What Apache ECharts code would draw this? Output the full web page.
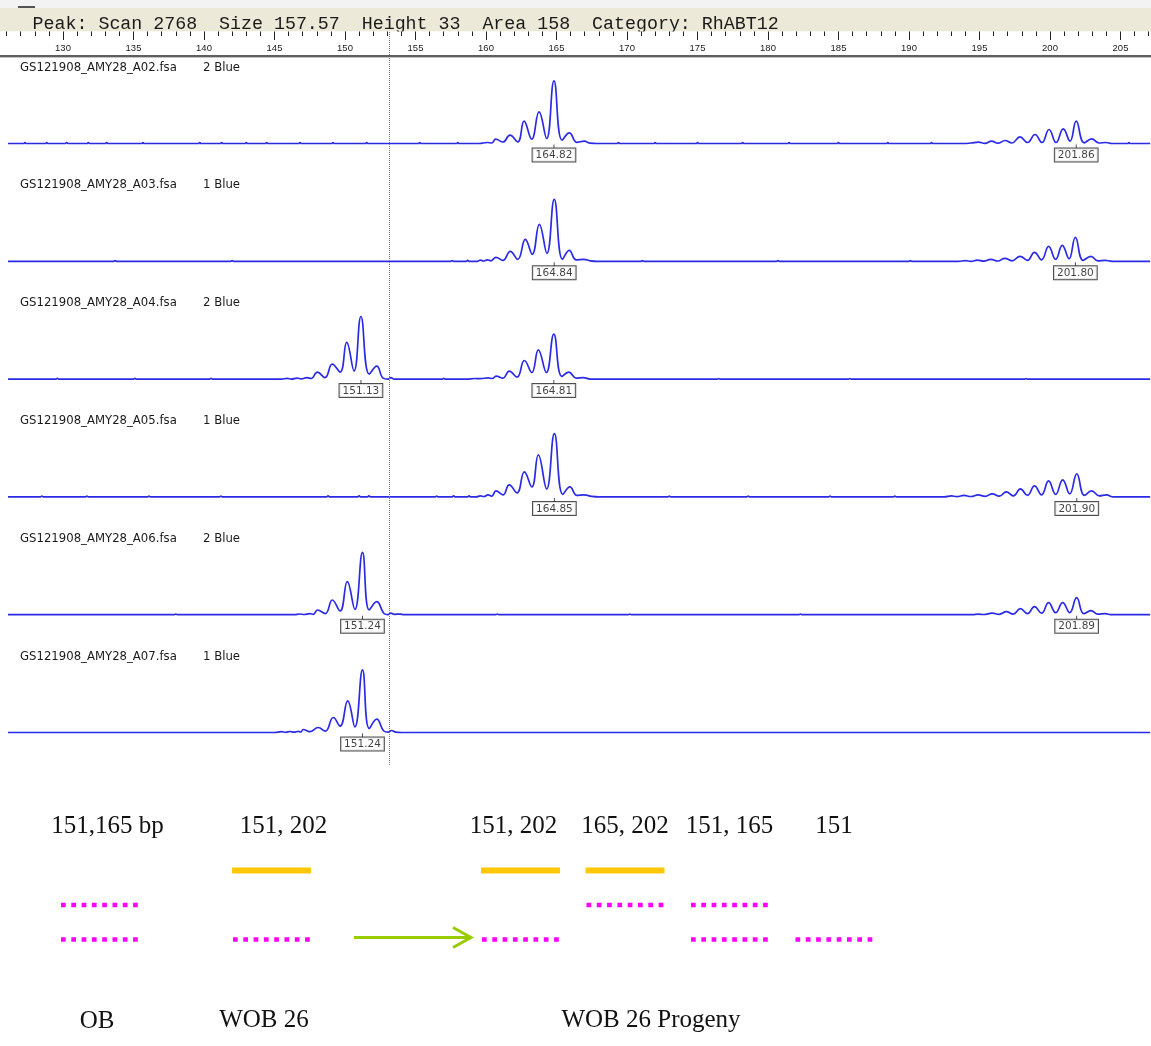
<!DOCTYPE html>
<html>
<head>
<meta charset="utf-8">
<script src="https://cdn.jsdelivr.net/npm/echarts@6/dist/echarts.min.js"></script>
<style>
  html, body { margin: 0; padding: 0; background: #fff; }
  #chart { width: 1151px; height: 1046px; }
</style>
</head>
<body>
<div id="chart"></div>
<script>
// ---------------------------------------------------------------------------
// Electropherogram data: fragment size (bp) vs. signal, one trace per sample
// ---------------------------------------------------------------------------
const HEADER_TEXT = 'Peak: Scan 2768  Size 157.57  Height 33  Area 158  Category: RhABT12';

const SAMPLES = [
  'GS121908_AMY28_A02.fsa', 'GS121908_AMY28_A03.fsa', 'GS121908_AMY28_A04.fsa',
  'GS121908_AMY28_A05.fsa', 'GS121908_AMY28_A06.fsa', 'GS121908_AMY28_A07.fsa'
];
const DYES = ['2 Blue', '1 Blue', '2 Blue', '1 Blue', '2 Blue', '1 Blue'];

const CURSOR_SIZE = 153.15;

// [size bp, signal]
const TRACE_A02 = [
  [126.1,0],[127.2,0],[127.3,0.8],[127.4,0],[128.75,0],[128.85,0.8],[128.95,0],
  [130.15,0],[130.26,1],[130.37,0],[131.7,0],[131.8,0.8],[131.9,0],[133.0,0],[133.1,1],[133.2,0],
  [135.57,0],[135.67,0.8],[135.77,0],[139.6,0],[139.7,1],[139.8,0],[141.15,0],[141.25,0.8],[141.35,0],
  [142.9,0],[143.0,1],[143.1,0],[144.35,0],[144.45,0.8],[144.55,0],[146.7,0],[146.8,1],[146.9,0],
  [149.05,0],[149.15,0.8],[149.25,0],[151.44,0],[151.54,1],[151.64,0],[155.2,0],[155.3,0.8],[155.4,0],
  [157.9,0],[158.0,0.8],[158.1,0],
  [159.5,0],[160.1,1],[160.4,0.5],[160.69,4.3],[161.2,1.5],[161.70,8.3],[162.25,1.6],[162.70,22.3],
  [163.24,4.3],[163.76,31.6],[164.30,5],[164.82,62.6],[165.40,3.3],[165.91,10.6],[166.45,1.2],
  [166.97,2.3],[167.4,0.3],[167.9,0],
  [169.3,0],[169.4,0.8],[169.5,0],[171.9,0],[172.0,0.8],[172.1,0],[174.9,0],[175.0,1],[175.1,0],
  [178.1,0],[178.2,0.8],[178.3,0],[181.4,0],[181.5,0.8],[181.6,0],[184.9,0],[185.0,1],[185.1,0],
  [188.4,0],[188.5,0.8],[188.6,0],[191.5,0],[191.6,0.8],[191.7,0],
  [193.9,0],[194.4,0.5],[194.92,1.3],[195.39,0.2],[195.86,2.3],[196.31,0.3],[196.81,3],[197.30,0.5],
  [197.87,6.6],[198.40,1],[198.94,9],[199.43,1],[199.93,14],[200.43,1],[200.94,14.6],[201.42,2.3],
  [201.86,22.3],[202.43,0.7],[202.96,4.6],[203.48,0.5],[203.97,1.0],[204.4,0],
  [205.5,0],[205.6,0.8],[205.7,0],[207.1,0]
];
const TRACE_A03 = [
  [126.1,0],[133.6,0],[133.7,0.6],[133.8,0],[141.9,0],[142.0,0.6],[142.1,0],
  [157.5,0],[157.6,0.8],[157.7,0],[158.6,0],[158.7,1],[158.8,0],
  [159.4,0],[159.6,1.2],[159.8,0.3],[160.1,1.5],[160.35,0.5],[160.7,4],[161.2,1],[161.72,10],
  [162.25,2],[162.79,22],[163.28,7],[163.78,37],[164.32,8],[164.84,62],[165.43,2],[165.90,11],
  [166.4,1.5],[166.95,2],[167.4,0.5],[167.9,0],
  [171.0,0],[171.1,0.6],[171.2,0],[180.6,0],[180.7,0.6],[180.8,0],[190.0,0],[190.1,0.6],[190.2,0],
  [193.5,0],[194.0,0.6],[194.4,0],[194.85,1.2],[195.3,0.2],[195.8,2],[196.3,0.3],[196.8,3],[197.3,0.5],
  [197.88,5],[198.4,1],[198.9,9],[199.4,1.5],[199.9,15],[200.4,2],[200.87,16],[201.35,2.5],
  [201.80,24],[202.35,1],[202.9,5],[203.4,0.5],[203.9,1],[204.4,0],[207.1,0]
];
const TRACE_A04 = [
  [126.1,0],[129.5,0],[129.6,0.7],[129.7,0],[135.0,0],[135.1,0.7],[135.2,0],[140.4,0],[140.5,0.7],[140.6,0],
  [145.5,0],[145.9,0.8],[146.2,0],[146.6,1],[146.9,0.3],[147.3,1.5],[147.6,0.6],[148.04,7],[148.58,1.5],
  [149.10,15],[149.65,7],[150.12,36.7],[150.64,8],[151.13,62.6],[151.72,5],[152.25,13],[152.7,1],
  [153.05,0],[153.25,1.5],[153.5,0],
  [156.9,0],[157.0,0.7],[157.1,0],
  [158.6,0],[159.2,0.6],[159.6,0.5],[160.15,1.2],[160.45,0.6],[160.72,3],[161.2,1],[161.65,8],[162.2,2],
  [162.72,18.6],[163.25,6.6],[163.71,29.3],[164.28,6.6],[164.81,45],[165.38,2.7],[165.87,7],[166.4,1],
  [166.9,1.5],[167.4,0],
  [176.4,0],[176.5,0.6],[176.6,0],[185.7,0],[185.8,0.6],[185.9,0],[198.2,0],[198.3,0.6],[198.4,0],[207.1,0]
];
const TRACE_A05 = [
  [126.1,0],[128.4,0],[128.5,0.8],[128.6,0],[131.6,0],[131.7,0.8],[131.8,0],[136.0,0],[136.1,0.8],[136.2,0],
  [141.1,0],[141.2,0.8],[141.3,0],[148.7,0],[148.8,1],[148.9,0],[150.9,0],[151.0,1],[151.1,0],
  [151.6,0],[151.7,1],[151.8,0],[156.4,0],[156.5,0.8],[156.6,0],[157.6,0],[157.7,1],[157.8,0],
  [158.7,0],[158.8,1],[158.9,0],
  [159.3,0],[159.6,1],[159.85,0.4],[160.15,2],[160.4,0.6],[160.71,6],[161.2,2],[161.65,12],[162.2,4],
  [162.72,25],[163.25,10],[163.71,42],[164.30,8],[164.85,63.3],[165.45,2.5],[165.95,10],[166.45,1.5],
  [166.95,2],[167.5,0.5],[168.0,0],
  [172.9,0],[173.0,0.8],[173.1,0],[178.5,0],[178.6,0.8],[178.7,0],[184.3,0],[184.4,0.8],[184.5,0],
  [188.9,0],[189.0,0.8],[189.1,0],
  [192.5,0],[193.0,1],[193.4,0.3],[193.9,1.5],[194.4,0.4],[194.9,2],[195.4,0.5],[195.9,3],[196.4,0.7],
  [196.9,5],[197.4,1],[197.9,8],[198.4,1.5],[198.9,11],[199.4,2],[199.9,16],[200.4,2.5],[200.9,17],
  [201.4,3],[201.90,23],[202.45,1.5],[202.95,6],[203.5,1],[204.0,2],[204.5,0],[207.1,0]
];
const TRACE_A06 = [
  [126.1,0],[137.9,0],[138.0,0.6],[138.1,0],
  [146.4,0],[146.8,0.7],[147.1,0.2],[147.5,1],[147.75,0.4],[148.05,4.7],[148.6,1],[149.10,14.7],
  [149.65,3.7],[150.16,33],[150.7,5.3],[151.24,62.3],[151.72,4.7],[152.25,13],[152.75,1.5],[153.05,0],
  [153.25,1.5],[153.5,0.4],[153.9,0.6],[154.2,0],
  [160.7,0],[160.8,0.6],[160.9,0],[170.1,0],[170.2,0.6],[170.3,0],[182.2,0],[182.3,0.6],[182.4,0],
  [194.5,0],[194.9,0.6],[195.3,0.2],[195.9,1.5],[196.4,0.4],[196.9,3],[197.4,0.6],[197.9,6],[198.4,1],
  [198.9,8],[199.4,1.5],[199.9,12],[200.4,2],[200.9,12],[201.4,2],[201.89,17],[202.4,1],[202.9,4],
  [203.4,0.5],[203.9,1],[204.4,0],[207.1,0]
];
const TRACE_A07 = [
  [126.1,0],[145.0,0],[145.5,0.8],[145.8,0.2],[146.1,1],[146.4,0.3],[146.7,1.2],[146.85,0.5],[147.04,3],
  [147.5,0.8],[148.1,5],[148.6,1.3],[149.17,15],[149.65,6.3],[150.19,31.7],[150.7,5.6],[151.24,62.7],
  [151.72,4],[152.25,13.3],[152.75,1.5],[153.05,0.3],[153.3,2],[153.6,0.3],[154.0,0],[207.1,0]
];

// Called allele sizes (bp) for each sample
const PEAKS_A02 = [164.82, 201.86];
const PEAKS_A03 = [164.84, 201.80];
const PEAKS_A04 = [151.13, 164.81];
const PEAKS_A05 = [164.85, 201.90];
const PEAKS_A06 = [151.24, 201.89];
const PEAKS_A07 = [151.24];

// Inheritance diagram: allele lanes, groups, genotypes
const ALLELE_LANES = ['202', '165', '151'];
const PATERNAL_ALLELE = '202';
const GROUP_NAMES = ['OB', 'WOB 26', 'WOB 26 Progeny'];
const GENOTYPE_LABELS_OB = ['151,165 bp'];
const GENOTYPE_LABELS_WOB = ['151, 202'];
const GENOTYPE_LABELS_PROGENY = ['151, 202', '165, 202', '151, 165', '151'];
const GENOTYPES_OB = [[151, 165]];
const GENOTYPES_WOB = [[151, 202]];
const GENOTYPES_PROGENY = [[151, 202], [165, 202], [151, 165], [151]];
const TRANSMITTED = { toProgeny: 0, allele: '151' };

// ---------------------------------------------------------------------------
// Layout
// ---------------------------------------------------------------------------
const W = 1151, H = 1046;
const X130 = 63, PX_PER_BP = 14.1;
const AX_MIN = 125, AX_MAX = 210;
const GRID_L = X130 - (130 - AX_MIN) * PX_PER_BP;
const GRID_R = W - (X130 + (AX_MAX - 130) * PX_PER_BP);
const PANEL_BASE0 = 143.5, PANEL_STEP = 117.8;
const SIG_MAX = 76, SIG_MIN = -4;

const TRACES = [TRACE_A02, TRACE_A03, TRACE_A04, TRACE_A05, TRACE_A06, TRACE_A07];
const PEAKS = [PEAKS_A02, PEAKS_A03, PEAKS_A04, PEAKS_A05, PEAKS_A06, PEAKS_A07];

const BAND = 104.5;
const GROUP_CENTERS = [99.5, 271.5, 520.5];
const GROUP_LABELS = [GENOTYPE_LABELS_OB, GENOTYPE_LABELS_WOB, GENOTYPE_LABELS_PROGENY];
const GROUP_GENOTYPES = [GENOTYPES_OB, GENOTYPES_WOB, GENOTYPES_PROGENY];
// horizontal nudge (px) of each genotype caption relative to its column
const LABEL_NUDGE = [[8], [12], [-7, 0, 0, 0]];
const GROUP_NAME_POS = [[97, 1021], [264, 1020], [651, 1020]];
const LANE_TOP = 853.25, LANE_H = 103.5;
const SEG = 77;

const grids = [], xAxes = [], yAxes = [], series = [], graphics = [];

// Size ruler + cursor grid
grids.push({ left: GRID_L, right: GRID_R, top: 31.5, bottom: H - 765, outerBoundsMode: 'none' });
xAxes.push({
  gridIndex: 0, type: 'value', position: 'top', min: AX_MIN, max: AX_MAX, interval: 5, z: 10,
  axisLine: { show: false, onZero: false },
  axisTick: { show: true, inside: true, length: 8.5, lineStyle: { color: '#222', width: 1 } },
  minorTick: { show: true, splitNumber: 5, length: 4.5, lineStyle: { color: '#222', width: 1 } },
  axisLabel: { inside: true, margin: 11.5, fontSize: 9.5, color: '#222',
    fontFamily: '"Liberation Sans Narrow", "Liberation Sans", sans-serif',
    showMinLabel: false, showMaxLabel: false },
  splitLine: { show: false }, minorSplitLine: { show: false }
});
yAxes.push({ gridIndex: 0, type: 'value', min: 0, max: 1, show: false });
series.push({
  type: 'line', xAxisIndex: 0, yAxisIndex: 0, data: [], silent: true,
  markLine: {
    silent: true, symbol: ['none', 'none'], label: { show: false },
    lineStyle: { color: '#7a7a7a', width: 1, type: [1, 1] },
    data: [{ xAxis: CURSOR_SIZE }]
  }
});

// One grid per sample trace
TRACES.forEach((trace, i) => {
  const gi = i + 1;
  const base = PANEL_BASE0 + i * PANEL_STEP;
  grids.push({ left: GRID_L, right: GRID_R, top: base - SIG_MAX, height: SIG_MAX - SIG_MIN, outerBoundsMode: 'none' });
  xAxes.push({ gridIndex: gi, type: 'value', min: AX_MIN, max: AX_MAX, show: false });
  yAxes.push({ gridIndex: gi, type: 'value', min: SIG_MIN, max: SIG_MAX, show: false });
  series.push({
    type: 'line', xAxisIndex: gi, yAxisIndex: gi, data: trace, silent: true,
    symbol: 'none', showSymbol: false, smooth: 0.45,
    lineStyle: { color: '#2b2be6', width: 1.7 }
  });
  series.push({
    type: 'scatter', xAxisIndex: gi, yAxisIndex: gi, silent: true, z: 5,
    data: PEAKS[i].map(v => [v, 0]),
    symbol: 'rect', symbolSize: [1, 4], symbolOffset: [0, 3],
    itemStyle: { color: '#222' },
    label: {
      show: true, position: 'bottom', distance: 0,
      formatter: p => p.value[0].toFixed(2),
      fontFamily: '"DejaVu Sans", sans-serif', fontSize: 10.5, lineHeight: 10, color: '#111',
      backgroundColor: '#fff', borderColor: '#222', borderWidth: 1, padding: [2, 3, 1, 3]
    }
  });
  graphics.push({ type: 'text', z: 20, style: { text: SAMPLES[i], x: 20, y: base - 76, fill: '#1a1a1a',
    font: '11.7px "DejaVu Sans"', verticalAlign: 'middle' } });
  graphics.push({ type: 'text', z: 20, style: { text: DYES[i], x: 203, y: base - 76, fill: '#1a1a1a',
    font: '11.7px "DejaVu Sans"', verticalAlign: 'middle' } });
});

// Inheritance diagram grids
const paternalStyle = { stroke: '#FFC808', lineWidth: 6, lineCap: 'butt' };
const otherStyle = { stroke: '#FF00FF', lineWidth: 4.7, lineDash: [4.7, 5.6], lineCap: 'butt' };
function renderAllele(params, api) {
  const p = api.coord([api.value(0), api.value(1)]);
  const lane = ALLELE_LANES[api.value(1)];
  const isPaternal = lane === PATERNAL_ALLELE;
  const len = isPaternal ? SEG + 2 : SEG;
  return {
    type: 'line',
    shape: { x1: p[0] - len / 2, y1: p[1], x2: p[0] + len / 2, y2: p[1] },
    style: isPaternal ? paternalStyle : otherStyle
  };
}
function renderArrow(params, api) {
  const p = api.coord([api.value(0), api.value(1)]);
  const xEnd = p[0] - SEG / 2 - 11, xStart = xEnd - 117, y = p[1] - 2;
  const st = { stroke: '#99CC00', lineWidth: 3, fill: null };
  return {
    type: 'group',
    children: [
      { type: 'line', shape: { x1: xStart, y1: y, x2: xEnd, y2: y }, style: st },
      { type: 'polyline', shape: { points: [[xEnd - 18, y - 10], [xEnd, y], [xEnd - 18, y + 10]] }, style: st }
    ]
  };
}

GROUP_NAMES.forEach((name, g) => {
  const gi = 7 + g;
  const n = GROUP_LABELS[g].length;
  const rich = {};
  LABEL_NUDGE[g].forEach((d, k) => {
    rich['c' + k] = { padding: d >= 0 ? [0, 0, 0, 2 * d] : [0, -2 * d, 0, 0] };
  });
  grids.push({ left: GROUP_CENTERS[g] - BAND / 2, width: BAND * n, top: LANE_TOP, height: LANE_H, outerBoundsMode: 'none' });
  xAxes.push({
    gridIndex: gi, type: 'category', position: 'top', data: GROUP_LABELS[g],
    axisLine: { show: false }, axisTick: { show: false }, splitLine: { show: false },
    axisLabel: { interval: 0, margin: 14, fontSize: 25, color: '#111',
      fontFamily: '"Liberation Serif", "Times New Roman", serif',
      formatter: (v, k) => '{c' + k + '|' + v + '}', rich: rich }
  });
  yAxes.push({ gridIndex: gi, type: 'category', data: ALLELE_LANES, inverse: true, show: false });
  const items = [];
  GROUP_GENOTYPES[g].forEach((gt, ci) => gt.forEach(a => items.push([ci, ALLELE_LANES.indexOf(String(a))])));
  series.push({ type: 'custom', xAxisIndex: gi, yAxisIndex: gi, silent: true, data: items, renderItem: renderAllele });
  graphics.push({ type: 'text', z: 20, style: { text: name, x: GROUP_NAME_POS[g][0], y: GROUP_NAME_POS[g][1],
    fill: '#111', font: '25px "Liberation Serif"', align: 'center', verticalAlign: 'middle' } });
});
series.push({
  type: 'custom', xAxisIndex: 9, yAxisIndex: 9, silent: true,
  data: [[TRANSMITTED.toProgeny, ALLELE_LANES.indexOf(TRANSMITTED.allele)]],
  renderItem: renderArrow
});

// Window chrome: status bar and ruler frame
graphics.unshift(
  { type: 'rect', z: 0, shape: { x: 0, y: 0, width: W, height: 8 }, style: { fill: '#f3f3f3' } },
  { type: 'rect', z: 1, shape: { x: 18, y: 6, width: 17, height: 2 }, style: { fill: '#555' } },
  { type: 'rect', z: 0, shape: { x: 0, y: 8, width: W, height: 23.5 }, style: { fill: '#ECE9D8' } },
  { type: 'text', z: 1, style: { text: HEADER_TEXT, x: 32.6, y: 24, fill: '#1a1a1a',
      font: '18.3px "Liberation Mono"', verticalAlign: 'middle' } },
  { type: 'rect', z: 5, shape: { x: 0, y: 31.5, width: W, height: 23.5 }, style: { fill: '#fff' } },
  { type: 'rect', z: 6, shape: { x: 0, y: 55, width: W, height: 2 }, style: { fill: '#5e5e5e' } },
  { type: 'rect', z: 6, shape: { x: 0, y: 57, width: W, height: 1 }, style: { fill: '#c4c4c4' } }
);

const chart = echarts.init(document.getElementById('chart'), null, { renderer: 'canvas' });
chart.setOption({
  animation: false,
  backgroundColor: '#fff',
  grid: grids,
  xAxis: xAxes,
  yAxis: yAxes,
  series: series,
  graphic: { elements: graphics }
});
</script>
</body>
</html>
